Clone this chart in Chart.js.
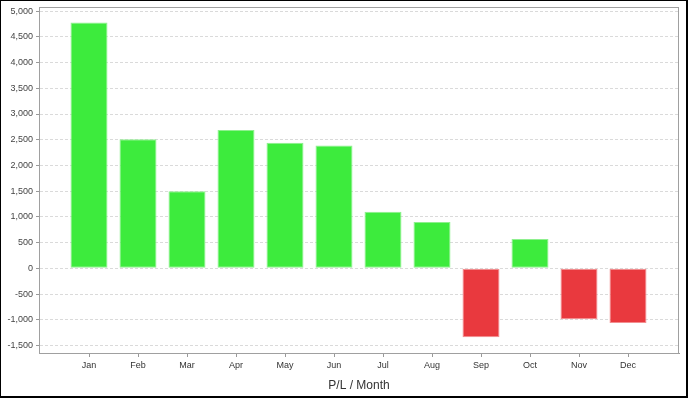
<!DOCTYPE html>
<html>
<head>
<meta charset="utf-8">
<script src="https://cdn.jsdelivr.net/npm/chart.js@4/dist/chart.umd.min.js"></script>
<style>
  html, body { margin: 0; padding: 0; background: #fff; }
  #wrap {
    width: 688px; height: 398px; box-sizing: border-box;
    border-style: solid; border-color: #000; border-width: 1px 2px 2px 1px;
  }
  canvas { display: block; }
</style>
</head>
<body>
<div id="wrap"><canvas id="c" width="685" height="395"></canvas></div>
<script>
"use strict";
const months = ["Jan", "Feb", "Mar", "Apr", "May", "Jun", "Jul", "Aug", "Sep", "Oct", "Nov", "Dec"];
const profit = [4780, 2510, 1500, 2690, 2440, 2390, 1100, 900, -1340, 570, -990, -1060];
const yTicks = [-1500, -1000, -500, 0, 500, 1000, 1500, 2000, 2500, 3000, 3500, 4000, 4500, 5000];
const yMin = -1645, yMax = 5080;

const green = "#3deb3d", greenEdge = "#8ef08e";
const red = "#e9393e", redEdge = "#f28e90";

// grey box round the plot area
const plotBox = {
  id: "plotBox",
  afterDraw(chart) {
    const {ctx, chartArea: a} = chart;
    ctx.save();
    ctx.strokeStyle = "#a0a0a0";
    ctx.lineWidth = 1;
    ctx.strokeRect(a.left + 0.5, a.top + 0.5, a.right - a.left - 1, a.bottom - a.top);
    ctx.restore();
  }
};

new Chart(document.getElementById("c").getContext("2d"), {
  type: "bar",
  data: {
    datasets: [{
      data: profit.map((v, i) => ({x: i, y: v})),
      backgroundColor: profit.map(v => v < 0 ? red : green),
      borderColor: profit.map(v => v < 0 ? redEdge : greenEdge),
      borderWidth: 1,
      borderSkipped: false,
      categoryPercentage: 1,
      barPercentage: 0.755
    }]
  },
  plugins: [plotBox],
  options: {
    responsive: false,
    animation: false,
    layout: {padding: {left: 0, top: 6, right: 7, bottom: 0}},
    plugins: {legend: {display: false}, tooltip: {enabled: false}},
    scales: {
      x: {
        type: "linear",
        offset: false,
        min: -50 / 49,
        max: 11 + 51 / 49,
        afterBuildTicks: axis => { axis.ticks = months.map((m, i) => ({value: i})); },
        afterFit: axis => { axis.height = 43; },
        grid: {offset: false, drawOnChartArea: false, tickLength: 4, tickColor: "#999"},
        border: {color: "#999"},
        ticks: {
          callback: v => months[v],
          autoSkip: false, maxRotation: 0, padding: 3,
          color: "#333", font: {family: "Liberation Sans", size: 9}
        },
        title: {
          display: true, text: "P/L / Month", color: "#333",
          font: {family: "Liberation Sans", size: 12}, padding: {top: 2, bottom: 3}
        }
      },
      y: {
        min: yMin,
        max: yMax,
        afterBuildTicks: axis => { axis.ticks = yTicks.map(v => ({value: v})); },
        afterFit: axis => { axis.width = 38; axis.paddingTop = 0; axis.paddingBottom = 0; },
        grid: {color: "#dadada", tickLength: 3, tickColor: "#999", tickBorderDash: []},
        border: {color: "#999", dash: [3, 2]},
        ticks: {
          padding: 3,
          color: "#444", font: {family: "Liberation Sans", size: 9},
          callback: v => v.toLocaleString("en-US")
        }
      }
    }
  }
});
</script>
</body>
</html>
